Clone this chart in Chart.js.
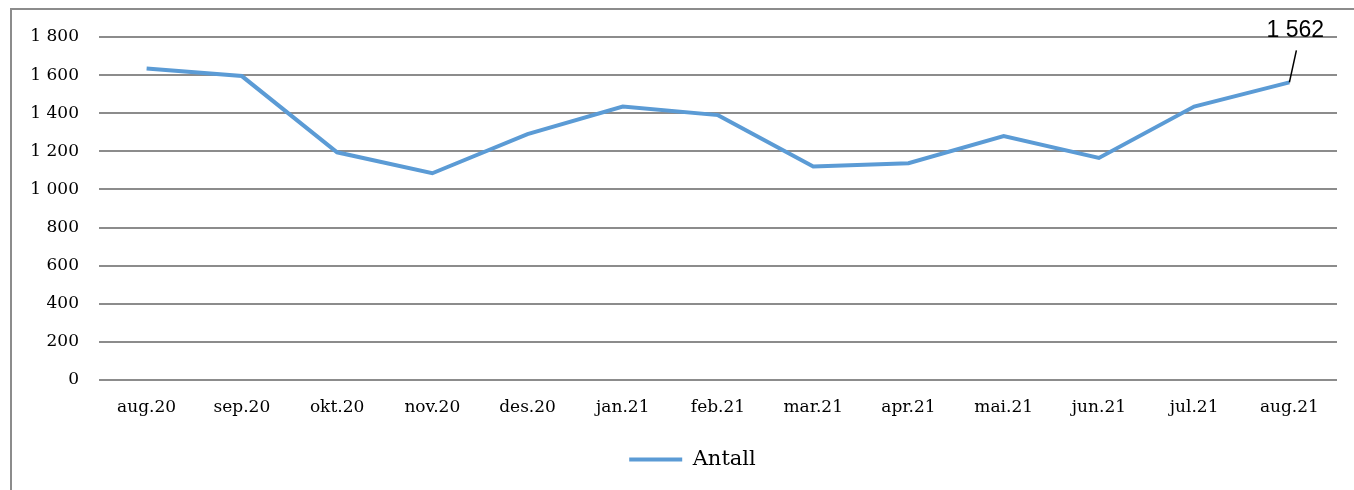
<!DOCTYPE html>
<html>
<head>
<meta charset="utf-8">
<script src="https://cdn.jsdelivr.net/npm/chart.js@4"></script>
<style>
  html, body { margin: 0; padding: 0; background: #fff; overflow: hidden; }
  #wrap { position: relative; width: 1354px; height: 490px; overflow: hidden; }
  .kant { position: absolute; background: #8c8c8c; }
  #kantV { left: 10px; top: 8px; width: 2px; height: 482px; }
  #kantH { left: 10px; top: 8px; width: 1344px; height: 2px; }
  canvas { position: absolute; left: 0; top: 0; }
</style>
</head>
<body>
<div id="wrap">
  <div class="kant" id="kantV"></div>
  <div class="kant" id="kantH"></div>
  <canvas id="chartAntall" width="1354" height="490"></canvas>
</div>
<script>
const maaneder = ['aug.20', 'sep.20', 'okt.20', 'nov.20', 'des.20', 'jan.21', 'feb.21',
                  'mar.21', 'apr.21', 'mai.21', 'jun.21', 'jul.21', 'aug.21'];
const antall = [1635, 1595, 1195, 1085, 1290, 1435, 1390, 1120, 1138, 1280, 1165, 1435, 1562];
const yTicks = [0, 200, 400, 600, 800, 1000, 1200, 1400, 1600, 1800];

const fmt = v => String(v).replace(/\B(?=(\d{3})+(?!\d))/g, ' ');

// etikett for siste punkt med strek
const sisteEtikett = {
    id: 'sisteEtikett',
    afterLayout(chart) {
        // flytt legenden litt mot høyre
        chart.legend.left += 24;
        chart.legend.right += 24;
    },
    afterDatasetsDraw(chart) {
        const meta = chart.getDatasetMeta(0);
        const i = antall.length - 1;
        const pt = meta.data[i];
        const ctx = chart.ctx;
        ctx.save();
        ctx.strokeStyle = '#000';
        ctx.lineWidth = 1.5;
        ctx.beginPath();
        ctx.moveTo(pt.x, pt.y);
        ctx.lineTo(pt.x + 7, pt.y - 32);
        ctx.stroke();
        ctx.fillStyle = '#000';
        ctx.font = '23px "Liberation Sans", Arial, sans-serif';
        ctx.textAlign = 'center';
        ctx.textBaseline = 'middle';
        ctx.fillText(fmt(antall[i]), pt.x + 6, pt.y - 52);
        ctx.restore();
    }
};

const ctx = document.getElementById('chartAntall').getContext('2d');

const chartAntall = new Chart(ctx, {
    type: 'line',
    data: {
        labels: maaneder,
        datasets: [{
            label: 'Antall',
            data: antall,
            borderColor: '#5b9bd5',
            backgroundColor: '#5b9bd5',
            borderWidth: 4,
            pointRadius: 0,
            tension: 0
        }]
    },
    options: {
        responsive: false,
        animation: false,
        layout: { padding: { left: 0, right: 17, top: 37, bottom: 10 } },
        plugins: {
            legend: {
                position: 'bottom',
                labels: {
                    usePointStyle: true,
                    pointStyle: 'line',
                    pointStyleWidth: 53,
                    color: '#000',
                    font: { family: '"DejaVu Serif", serif', size: 21 },
                    padding: 6
                }
            },
            tooltip: { enabled: false }
        },
        scales: {
            x: {
                offset: true,
                grid: { display: false },
                border: { display: false },
                ticks: {
                    color: '#000',
                    maxRotation: 0,
                    autoSkip: false,
                    padding: 9,
                    font: { family: '"DejaVu Serif", serif', size: 17 }
                },
                afterFit(scale) { scale.height = 63; }
            },
            y: {
                min: 0,
                max: 1800,
                afterBuildTicks(scale) { scale.ticks = yTicks.map(v => ({ value: v })); },
                grid: { color: '#8c8c8c', lineWidth: 2, drawTicks: false },
                border: { display: false },
                ticks: {
                    color: '#000',
                    padding: 20,
                    font: { family: '"DejaVu Serif", serif', size: 17 },
                    callback: v => fmt(v)
                },
                afterFit(scale) { scale.width = 99; }
            }
        }
    },
    plugins: [sisteEtikett]
});
</script>
</body>
</html>
